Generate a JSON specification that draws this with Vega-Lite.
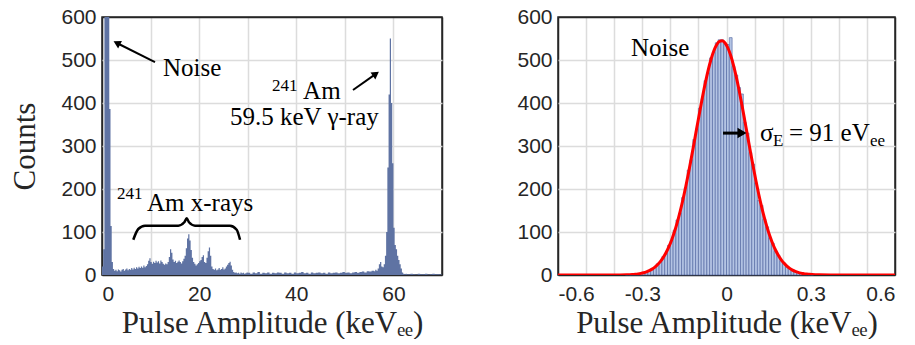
{
"$schema": "https://vega.github.io/schema/vega-lite/v6.json",
"padding": {"left": 9, "top": 5, "right": 5, "bottom": 0},
"background": "white",
"spacing": 73,
"config": {
  "view": {"stroke": "#262626", "strokeWidth": 1.5},
  "axis": {"labelFont": "Liberation Sans", "labelFontSize": 21, "labelColor": "#262626", "titleFont": "Liberation Serif", "titleFontSize": 31, "titleFontWeight": "normal", "titleColor": "#262626", "grid": true, "gridWidth": 1.5, "gridOpacity": 1, "domain": false, "ticks": false, "labelPadding": 6}
},
"datasets": {
  "spec": [
    {"e":0,"n":20},{"e":0.25,"n":60},{"e":0.5,"n":1500},{"e":0.75,"n":3000},{"e":1.0,"n":2500},{"e":1.25,"n":1200},{"e":1.5,"n":386},{"e":1.75,"n":114},
    {"e":2.0,"n":30},{"e":2.25,"n":14},{"e":2.5,"n":10},{"e":2.75,"n":12},{"e":3.0,"n":9},{"e":3.25,"n":13},{"e":3.5,"n":11},{"e":3.75,"n":8},
    {"e":4.0,"n":12},{"e":4.25,"n":14},{"e":4.5,"n":10},{"e":4.75,"n":13},{"e":5.0,"n":15},{"e":5.25,"n":11},{"e":5.5,"n":14},{"e":5.75,"n":12},
    {"e":6.0,"n":16},{"e":6.25,"n":13},{"e":6.5,"n":17},{"e":6.75,"n":14},{"e":7.0,"n":18},{"e":7.25,"n":15},{"e":7.5,"n":19},{"e":7.75,"n":16},
    {"e":8.0,"n":20},{"e":8.25,"n":17},{"e":8.5,"n":22},{"e":8.75,"n":18},{"e":9.0,"n":21},{"e":9.25,"n":25},{"e":9.5,"n":33},{"e":9.75,"n":39},
    {"e":10.0,"n":30},{"e":10.25,"n":26},{"e":10.5,"n":31},{"e":10.75,"n":28},{"e":11.0,"n":33},{"e":11.25,"n":29},{"e":11.5,"n":32},{"e":11.75,"n":27},
    {"e":12.0,"n":34},{"e":12.25,"n":30},{"e":12.5,"n":26},{"e":12.75,"n":24},{"e":13.0,"n":27},{"e":13.25,"n":25},{"e":13.5,"n":30},{"e":13.75,"n":42},
    {"e":14.0,"n":60},{"e":14.25,"n":52},{"e":14.5,"n":36},{"e":14.75,"n":30},{"e":15.0,"n":33},{"e":15.25,"n":28},{"e":15.5,"n":31},{"e":15.75,"n":34},
    {"e":16.0,"n":30},{"e":16.25,"n":27},{"e":16.5,"n":32},{"e":16.75,"n":38},{"e":17.0,"n":45},{"e":17.25,"n":62},{"e":17.5,"n":85},{"e":17.75,"n":95},
    {"e":18.0,"n":80},{"e":18.25,"n":58},{"e":18.5,"n":40},{"e":18.75,"n":30},{"e":19.0,"n":26},{"e":19.25,"n":22},{"e":19.5,"n":25},{"e":19.75,"n":28},
    {"e":20.0,"n":32},{"e":20.25,"n":35},{"e":20.5,"n":42},{"e":20.75,"n":46},{"e":21.0,"n":30},{"e":21.25,"n":28},{"e":21.5,"n":40},{"e":21.75,"n":55},
    {"e":22.0,"n":64},{"e":22.25,"n":45},{"e":22.5,"n":20},{"e":22.75,"n":14},{"e":23.0,"n":12},{"e":23.25,"n":15},{"e":23.5,"n":11},{"e":23.75,"n":13},
    {"e":24.0,"n":16},{"e":24.25,"n":12},{"e":24.5,"n":14},{"e":24.75,"n":18},{"e":25.0,"n":13},{"e":25.25,"n":15},{"e":25.5,"n":20},{"e":25.75,"n":24},
    {"e":26.0,"n":28},{"e":26.25,"n":31},{"e":26.5,"n":22},{"e":26.75,"n":12},{"e":27.0,"n":7},{"e":27.25,"n":5},{"e":27.5,"n":6},{"e":27.75,"n":4},
    {"e":28.0,"n":5},{"e":28.25,"n":3},{"e":28.5,"n":6},{"e":28.75,"n":4},{"e":29.0,"n":5},{"e":29.25,"n":3},{"e":29.5,"n":4},{"e":29.75,"n":6},
    {"e":30,"n":5},{"e":30.5,"n":3},{"e":31,"n":6},{"e":31.5,"n":4},{"e":32,"n":7},{"e":32.5,"n":3},{"e":33,"n":5},{"e":33.5,"n":4},
    {"e":34,"n":6},{"e":34.5,"n":3},{"e":35,"n":5},{"e":35.5,"n":4},{"e":36,"n":6},{"e":36.5,"n":5},{"e":37,"n":3},{"e":37.5,"n":6},
    {"e":38,"n":4},{"e":38.5,"n":5},{"e":39,"n":3},{"e":39.5,"n":6},{"e":40,"n":4},{"e":40.5,"n":5},{"e":41,"n":7},{"e":41.5,"n":4},
    {"e":42,"n":5},{"e":42.5,"n":3},{"e":43,"n":6},{"e":43.5,"n":4},{"e":44,"n":5},{"e":44.5,"n":6},{"e":45,"n":4},{"e":45.5,"n":5},
    {"e":46,"n":3},{"e":46.5,"n":6},{"e":47,"n":4},{"e":47.5,"n":5},{"e":48,"n":6},{"e":48.5,"n":4},{"e":49,"n":5},{"e":49.5,"n":7},
    {"e":50,"n":5},{"e":50.5,"n":6},{"e":51,"n":4},{"e":51.5,"n":6},{"e":52,"n":7},{"e":52.5,"n":5},{"e":53,"n":7},{"e":53.5,"n":8},
    {"e":54,"n":6},{"e":54.5,"n":9},{"e":55,"n":8},{"e":55.5,"n":10},
    {"e":56,"n":9},{"e":56.25,"n":12},{"e":56.5,"n":10},{"e":56.75,"n":15},{"e":57,"n":25},{"e":57.25,"n":30},{"e":57.5,"n":20},{"e":57.75,"n":18},
    {"e":58,"n":25},{"e":58.25,"n":45},{"e":58.5,"n":100},{"e":58.75,"n":250},{"e":59,"n":420},{"e":59.25,"n":550},{"e":59.5,"n":400},{"e":59.75,"n":260},
    {"e":60,"n":110},{"e":60.25,"n":70},{"e":60.5,"n":60},{"e":60.75,"n":45},{"e":61,"n":35},{"e":61.25,"n":25},{"e":61.5,"n":15},{"e":61.75,"n":6},
    {"e":62,"n":3},{"e":62.25,"n":2},{"e":62.5,"n":3},{"e":62.75,"n":2},
    {"e":63,"n":2},{"e":63.5,"n":3},{"e":64,"n":2},{"e":64.5,"n":1},{"e":65,"n":3},{"e":65.5,"n":2},{"e":66,"n":2},{"e":66.5,"n":3},
    {"e":67,"n":1},{"e":67.5,"n":2},{"e":68,"n":3},{"e":68.5,"n":2},{"e":69,"n":2},{"e":69.5,"n":1},{"e":70,"n":1}
  ],
  "brace": [
    {"x":6.44,"y":82},{"x":7.47,"y":107},{"x":8.85,"y":114.7},{"x":15.71,"y":114.7},{"x":16.94,"y":122.6},{"x":17.44,"y":132},
    {"x":17.91,"y":122.6},{"x":19.15,"y":114.7},{"x":26.35,"y":114.7},{"x":27.73,"y":105.3},{"x":28.42,"y":82}
  ],
  "larrows": [
    {"x":10.91,"y":495.3,"x2":3.05,"y2":539.5,"a":297},
    {"x":51.68,"y":430.2,"x2":56.39,"y2":467.7,"a":55}
  ],
  "ltext": [
    {"x":12.56,"y":463,"t":"Noise","s":25},
    {"x":35.0,"y":428,"t":"241","s":17},
    {"x":41.4,"y":409,"t":"Am","s":25},
    {"x":26.35,"y":349,"t":"59.5 keV γ-ray","s":25},
    {"x":3.09,"y":177,"t":"241","s":17},
    {"x":9.26,"y":149,"t":"Am x-rays","s":25}
  ],
  "hist": [
    {"lo":-0.36,"hi":-0.35,"n":1},{"lo":-0.35,"hi":-0.34,"n":1},{"lo":-0.34,"hi":-0.33,"n":2},{"lo":-0.33,"hi":-0.32,"n":2},
    {"lo":-0.32,"hi":-0.31,"n":3},{"lo":-0.31,"hi":-0.30,"n":4},{"lo":-0.30,"hi":-0.29,"n":6},{"lo":-0.29,"hi":-0.28,"n":7},
    {"lo":-0.28,"hi":-0.27,"n":10},{"lo":-0.27,"hi":-0.26,"n":14},{"lo":-0.26,"hi":-0.25,"n":17},{"lo":-0.25,"hi":-0.24,"n":26},
    {"lo":-0.24,"hi":-0.23,"n":30},{"lo":-0.23,"hi":-0.22,"n":43},{"lo":-0.22,"hi":-0.21,"n":50},{"lo":-0.21,"hi":-0.20,"n":69},
    {"lo":-0.20,"hi":-0.19,"n":80},{"lo":-0.19,"hi":-0.18,"n":104},{"lo":-0.18,"hi":-0.17,"n":128},{"lo":-0.17,"hi":-0.16,"n":144},
    {"lo":-0.16,"hi":-0.15,"n":180},{"lo":-0.15,"hi":-0.14,"n":203},{"lo":-0.14,"hi":-0.13,"n":244},{"lo":-0.13,"hi":-0.12,"n":268},
    {"lo":-0.12,"hi":-0.11,"n":315},{"lo":-0.11,"hi":-0.10,"n":340},{"lo":-0.10,"hi":-0.09,"n":388},{"lo":-0.09,"hi":-0.08,"n":410},
    {"lo":-0.08,"hi":-0.07,"n":452},{"lo":-0.07,"hi":-0.06,"n":470},{"lo":-0.06,"hi":-0.05,"n":505},{"lo":-0.05,"hi":-0.04,"n":518},
    {"lo":-0.04,"hi":-0.03,"n":540},{"lo":-0.03,"hi":-0.02,"n":547},{"lo":-0.02,"hi":-0.01,"n":547},{"lo":-0.01,"hi":0.00,"n":538},
    {"lo":0.00,"hi":0.01,"n":536},{"lo":0.01,"hi":0.02,"n":552},{"lo":0.02,"hi":0.03,"n":485},{"lo":0.03,"hi":0.04,"n":465},
    {"lo":0.04,"hi":0.05,"n":436},{"lo":0.05,"hi":0.06,"n":421},{"lo":0.06,"hi":0.07,"n":355},{"lo":0.07,"hi":0.08,"n":330},
    {"lo":0.08,"hi":0.09,"n":285},{"lo":0.09,"hi":0.10,"n":258},{"lo":0.10,"hi":0.11,"n":214},{"lo":0.11,"hi":0.12,"n":173},
    {"lo":0.12,"hi":0.13,"n":162},{"lo":0.13,"hi":0.14,"n":130},{"lo":0.14,"hi":0.15,"n":112},{"lo":0.15,"hi":0.16,"n":86},
    {"lo":0.16,"hi":0.17,"n":74},{"lo":0.17,"hi":0.18,"n":55},{"lo":0.18,"hi":0.19,"n":46},{"lo":0.19,"hi":0.20,"n":33},
    {"lo":0.20,"hi":0.21,"n":28},{"lo":0.21,"hi":0.22,"n":19},{"lo":0.22,"hi":0.23,"n":16},{"lo":0.23,"hi":0.24,"n":10},
    {"lo":0.24,"hi":0.25,"n":8},{"lo":0.25,"hi":0.26,"n":6},{"lo":0.26,"hi":0.27,"n":4},{"lo":0.27,"hi":0.28,"n":3},
    {"lo":0.28,"hi":0.29,"n":2},{"lo":0.29,"hi":0.30,"n":1},{"lo":0.30,"hi":0.31,"n":1}
  ],
  "fit": [
    {"x":-0.6,"f":0},{"x":-0.5,"f":0},{"x":-0.45,"f":0.005},{"x":-0.4,"f":0.08},{"x":-0.38,"f":0.2},
    {"x":-0.355,"f":0.57},{"x":-0.345,"f":0.86},{"x":-0.335,"f":1.26},{"x":-0.325,"f":1.84},{"x":-0.315,"f":2.65},
    {"x":-0.305,"f":3.77},{"x":-0.295,"f":5.3},{"x":-0.285,"f":7.4},{"x":-0.275,"f":10.1},{"x":-0.265,"f":13.7},
    {"x":-0.255,"f":18.3},{"x":-0.245,"f":24.3},{"x":-0.235,"f":31.7},{"x":-0.225,"f":41.0},{"x":-0.215,"f":52.3},
    {"x":-0.205,"f":66.0},{"x":-0.195,"f":82.2},{"x":-0.185,"f":101.2},{"x":-0.175,"f":123.1},{"x":-0.165,"f":147.9},
    {"x":-0.155,"f":175.5},{"x":-0.145,"f":205.8},{"x":-0.135,"f":238.5},{"x":-0.125,"f":273.0},{"x":-0.115,"f":308.8},
    {"x":-0.105,"f":345.1},{"x":-0.095,"f":381.0},{"x":-0.085,"f":415.6},{"x":-0.075,"f":447.9},{"x":-0.065,"f":476.9},
    {"x":-0.055,"f":501.8},{"x":-0.045,"f":521.5},{"x":-0.035,"f":535.6},{"x":-0.025,"f":543.4},{"x":-0.015,"f":544.7},
    {"x":-0.005,"f":539.5},{"x":0.005,"f":527.9},{"x":0.015,"f":510.3},{"x":0.025,"f":487.4},{"x":0.035,"f":460.0},
    {"x":0.045,"f":428.9},{"x":0.055,"f":395.1},{"x":0.065,"f":359.5},{"x":0.075,"f":323.3},{"x":0.085,"f":287.2},
    {"x":0.095,"f":252.1},{"x":0.105,"f":218.6},{"x":0.115,"f":187.3},{"x":0.125,"f":158.6},{"x":0.135,"f":132.6},
    {"x":0.145,"f":109.6},{"x":0.155,"f":89.5},{"x":0.165,"f":72.1},{"x":0.175,"f":57.5},{"x":0.185,"f":45.3},
    {"x":0.195,"f":35.2},{"x":0.205,"f":27.1},{"x":0.215,"f":20.6},{"x":0.225,"f":15.4},{"x":0.235,"f":11.4},
    {"x":0.245,"f":8.4},{"x":0.255,"f":6.1},{"x":0.265,"f":4.3},{"x":0.275,"f":3.1},{"x":0.285,"f":2.1},
    {"x":0.295,"f":1.5},{"x":0.305,"f":1.0},{"x":0.33,"f":0.36},{"x":0.37,"f":0.06},{"x":0.45,"f":0},{"x":0.6,"f":0}
  ],
  "rarrow": [{"x":-0.0124,"y":330,"x2":0.0553,"y2":330,"a":90}],
  "rtext": [
    {"x":-0.34,"y":510,"t":"Noise","s":25,"st":"normal"},
    {"x":0.1194,"y":312,"t":"σ","s":25,"st":"italic"},
    {"x":0.1657,"y":301,"t":"E","s":17,"st":"normal"},
    {"x":0.2226,"y":312,"t":"= 91 eV","s":25,"st":"normal"},
    {"x":0.511,"y":301,"t":"ee","s":17,"st":"normal"}
  ]
},
"hconcat": [
  {
    "width": 340, "height": 258,
    "encoding": {
      "x": {"type": "quantitative", "scale": {"domain": [0, 70], "nice": false, "zero": false},
            "axis": {"values": [0,10,20,30,40,50,60,70], "labelExpr": "datum.value % 20 === 0 ? datum.label : ''", "title": "Pulse Amplitude (keVₑₑ)", "labelPadding": 8, "titlePadding": 4,
                     "gridColor": {"condition": {"test": "datum.value === 0 || datum.value === 70", "value": "#262626"}, "value": "#dcdcdc"}}},
      "y": {"type": "quantitative", "scale": {"domain": [0, 600], "nice": false},
            "axis": {"values": [0,100,200,300,400,500,600], "title": "Counts", "titlePadding": 19,
                     "gridColor": {"condition": {"test": "datum.value === 0 || datum.value === 600", "value": "#262626"}, "value": "#dcdcdc"}}}
    },
    "layer": [
      {"data": {"name": "spec"}, "mark": {"type": "area", "interpolate": "step-after", "color": "#5f73a3", "clip": true},
       "encoding": {"x": {"field": "e"}, "y": {"field": "n"}}},
      {"data": {"name": "brace"}, "mark": {"type": "line", "interpolate": "monotone", "color": "black", "strokeWidth": 2.5},
       "encoding": {"x": {"field": "x"}, "y": {"field": "y"}}},
      {"data": {"name": "larrows"}, "mark": {"type": "rule", "color": "black", "strokeWidth": 2},
       "encoding": {"x": {"field": "x"}, "y": {"field": "y"}, "x2": {"field": "x2"}, "y2": {"field": "y2"}}},
      {"data": {"name": "larrows"}, "mark": {"type": "point", "shape": "triangle-up", "filled": true, "color": "black", "size": 70, "opacity": 1},
       "encoding": {"x": {"field": "x2"}, "y": {"field": "y2"}, "angle": {"field": "a", "type": "quantitative", "scale": null}}},
      {"data": {"name": "ltext"}, "mark": {"type": "text", "font": "Liberation Serif", "color": "black", "align": "left", "baseline": "alphabetic"},
       "encoding": {"x": {"field": "x"}, "y": {"field": "y"}, "text": {"field": "t"}, "size": {"field": "s", "type": "quantitative", "scale": null}}}
    ]
  },
  {
    "width": 337, "height": 258,
    "encoding": {
      "x": {"type": "quantitative", "scale": {"domain": [-0.6, 0.6], "nice": false, "zero": false},
            "axis": {"values": [-0.6,-0.5,-0.4,-0.3,-0.2,-0.1,0,0.1,0.2,0.3,0.4,0.5,0.6], "labelExpr": "abs(round(datum.value*10)) % 3 === 0 ? (datum.value < -0.001 ? '-' + format(-datum.value, '.1~f') : format(datum.value, '.1~f')) : ''", "title": "Pulse Amplitude (keVₑₑ)", "labelPadding": 8, "titlePadding": 4,
                     "gridColor": {"condition": {"test": "abs(datum.value) > 0.59", "value": "#262626"}, "value": "#dcdcdc"}}},
      "y": {"type": "quantitative", "scale": {"domain": [0, 600], "nice": false},
            "axis": {"values": [0,100,200,300,400,500,600], "title": null,
                     "gridColor": {"condition": {"test": "datum.value === 0 || datum.value === 600", "value": "#262626"}, "value": "#dcdcdc"}}}
    },
    "layer": [
      {"data": {"name": "hist"}, "mark": {"type": "rect", "fill": "#b4c4e4", "stroke": "#4a5f9c", "strokeWidth": 0.6, "opacity": 1},
       "encoding": {"x": {"field": "lo"}, "x2": {"field": "hi"}, "y": {"field": "n"}, "y2": {"datum": 0}}},
      {"data": {"name": "fit"}, "mark": {"type": "line", "interpolate": "monotone", "color": "#ff0000", "strokeWidth": 3, "clip": true},
       "encoding": {"x": {"field": "x"}, "y": {"field": "f"}}},
      {"data": {"name": "rarrow"}, "mark": {"type": "rule", "color": "black", "strokeWidth": 3},
       "encoding": {"x": {"field": "x"}, "y": {"field": "y"}, "x2": {"field": "x2"}, "y2": {"field": "y2"}}},
      {"data": {"name": "rarrow"}, "mark": {"type": "point", "shape": "triangle-up", "filled": true, "color": "black", "size": 110, "opacity": 1},
       "encoding": {"x": {"field": "x2"}, "y": {"field": "y2"}, "angle": {"field": "a", "type": "quantitative", "scale": null}}},
      {"data": {"name": "rtext"}, "mark": {"type": "text", "font": "Liberation Serif", "color": "black", "align": "left", "baseline": "alphabetic"},
       "encoding": {"x": {"field": "x"}, "y": {"field": "y"}, "text": {"field": "t"}, "size": {"field": "s", "type": "quantitative", "scale": null}, "fontStyle": {"field": "st", "type": "nominal", "scale": null}}}
    ]
  }
]
}
